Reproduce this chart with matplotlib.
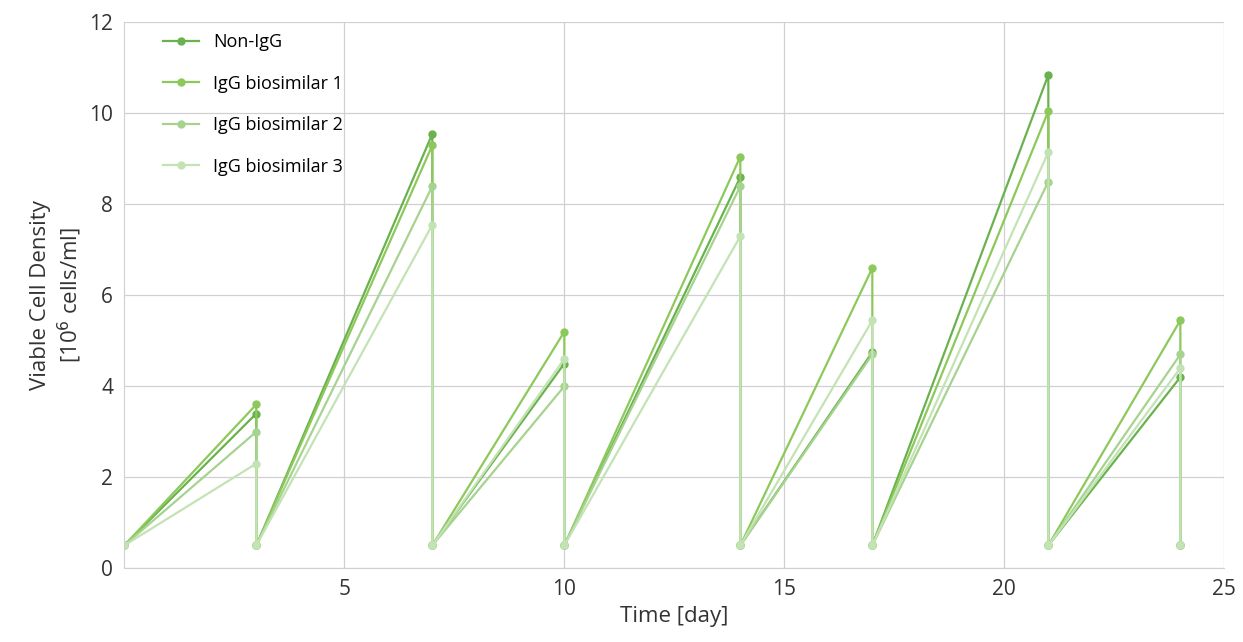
import numpy as np
import matplotlib.pyplot as plt

feed_days = [0, 3, 7, 10, 14, 17, 21, 24]
seed_density = 0.5
series_names = ["Non-IgG", "IgG biosimilar 1", "IgG biosimilar 2", "IgG biosimilar 3"]
# peak density before each split, days 3..24
peaks = {
    "Non-IgG":          [3.4, 9.55, 4.5, 8.6, 4.75, 10.85, 4.2],
    "IgG biosimilar 1": [3.6, 9.3, 5.2, 9.05, 6.6, 10.05, 5.45],
    "IgG biosimilar 2": [3.0, 8.4, 4.0, 8.4, 4.7, 8.5, 4.7],
    "IgG biosimilar 3": [2.3, 7.55, 4.6, 7.3, 5.45, 9.15, 4.4],
}
colors = ["#6ab24e", "#8cc95a", "#a6d38f", "#c3e3b4"]


# build sawtooth: seed at day0, then peak / reseed at each later day
def sawtooth(peak_vals):
    xs, ys = [feed_days[0]], [seed_density]
    for d, p in zip(feed_days[1:], peak_vals):
        xs += [d, d]
        ys += [p, seed_density]
    return xs, ys


plt.rcParams['font.family'] = ['Open Sans', 'DejaVu Sans']
fig, ax = plt.subplots(figsize=(12.43, 6.42), dpi=100)
for name, c in zip(series_names, colors):
    xs, ys = sawtooth(peaks[name])
    ax.plot(xs, ys, color=c, marker='o', markersize=5, linewidth=1.6, label=name)

ax.set_xlim(0, 25)
ax.set_ylim(0, 12)
ax.set_xticks([5, 10, 15, 20, 25])
ax.set_yticks(np.arange(0, 13, 2))
ax.grid(True, color='#d0d0d0', linewidth=0.9)
ax.set_axisbelow(True)
for s in ['top', 'right']:
    ax.spines[s].set_visible(False)
ax.spines['left'].set_color('#d0d0d0')
ax.spines['bottom'].set_color('#d0d0d0')
ax.tick_params(length=0, labelsize=15, colors='#333333', pad=8)
ax.set_xlabel("Time [day]", fontsize=16, color='#333333')
ax.set_ylabel("Viable Cell Density\n[10$^6$ cells/ml]", fontsize=16, color='#333333')
ax.legend(loc='upper left', frameon=False, fontsize=13, handlelength=2,
          labelspacing=1.3, bbox_to_anchor=(0.02, 1.01))
fig.subplots_adjust(left=0.1, right=0.985, top=0.965, bottom=0.115)
fig.savefig("out.png")
